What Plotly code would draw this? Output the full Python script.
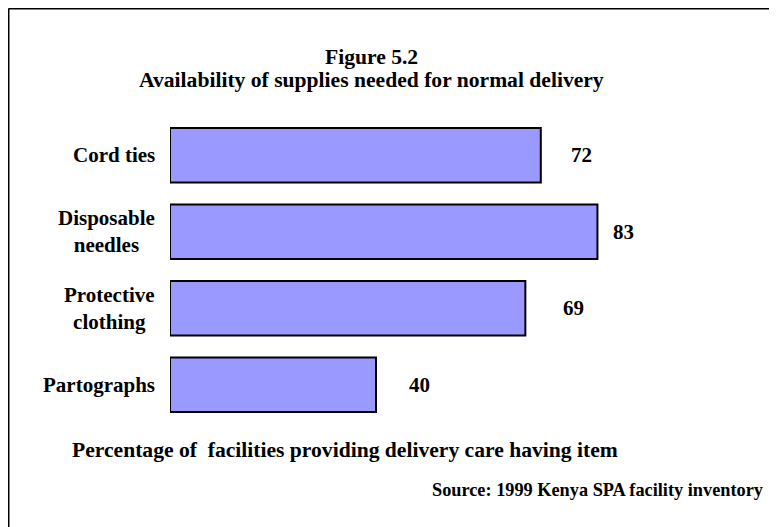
import plotly.graph_objects as go

categories = ["Cord ties", "Disposable needles", "Protective clothing", "Partographs"]
category_labels = ["Cord ties", "Disposable<br>needles", "Protective<br>clothing", "Partographs"]
values = [72, 83, 69, 40]

title_line1 = "Figure 5.2"
title_line2 = "Availability of supplies needed for normal delivery"
axis_note = "Percentage of \u00a0facilities providing delivery care having item"
source_note = "Source: 1999 Kenya SPA facility inventory"

FONT = "Liberation Serif, Times New Roman, serif"
W, H = 777, 527
# page places the figure 8px in from the window's top-left corner
OX, OY = 8, 8
L, R, T, B = 162, 100, 109, 112
PW, PH = W - L - R, H - T - B
# gap (px) between each bar end and its value label, as placed in the original
label_gaps = [28, 14, 36, 31]

def px_x(x):
    return (x - OX - L) / PW

def px_y(y):
    return 1 - (y - OY - T) / PH

fig = go.Figure()
fig.add_trace(go.Bar(
    x=values, y=categories, orientation="h",
    width=0.715,
    marker=dict(color="#9999FF", line=dict(color="black", width=2)),
    hoverinfo="skip",
))

annotations = []
for cat, lab in zip(categories, category_labels):
    annotations.append(dict(
        x=0, xref="paper", y=cat, yref="y", text="<b>%s</b>" % lab,
        xanchor="right", yanchor="middle", xshift=-13, align="center",
        showarrow=False, font=dict(family=FONT, size=21, color="black"),
    ))
for cat, v, g in zip(categories, values, label_gaps):
    annotations.append(dict(
        x=v, xref="x", y=cat, yref="y", text="<b>%d</b>" % v,
        xanchor="left", yanchor="middle", xshift=g,
        showarrow=False, font=dict(family=FONT, size=21, color="black"),
    ))
annotations.append(dict(
    x=px_x(371), xref="paper", y=px_y(57), yref="paper", text="<b>%s</b>" % title_line1,
    xanchor="center", yanchor="middle", showarrow=False,
    font=dict(family=FONT, size=21.6, color="black")))
annotations.append(dict(
    x=px_x(371), xref="paper", y=px_y(80), yref="paper", text="<b>%s</b>" % title_line2,
    xanchor="center", yanchor="middle", showarrow=False,
    font=dict(family=FONT, size=21.6, color="black")))
annotations.append(dict(
    x=px_x(70), xref="paper", y=px_y(450), yref="paper", text="<b>%s</b>" % axis_note,
    xanchor="left", yanchor="middle", showarrow=False,
    font=dict(family=FONT, size=21.6, color="black")))
annotations.append(dict(
    x=px_x(765), xref="paper", y=px_y(490), yref="paper", text="<b>%s</b>" % source_note,
    xanchor="right", yanchor="middle", showarrow=False,
    font=dict(family=FONT, size=18.3, color="black")))

shapes = [
    dict(type="line", xref="paper", yref="paper",
         x0=px_x(8.5), x1=px_x(800), y0=px_y(8.5), y1=px_y(8.5),
         line=dict(color="black", width=2)),
    dict(type="line", xref="paper", yref="paper",
         x0=px_x(8.5), x1=px_x(8.5), y0=px_y(8.5), y1=px_y(560),
         line=dict(color="black", width=2)),
]

fig.update_layout(
    width=W, height=H,
    margin=dict(l=L, r=R, t=T, b=B),
    paper_bgcolor="white", plot_bgcolor="white",
    showlegend=False,
    xaxis=dict(range=[0, 100], visible=False),
    yaxis=dict(range=[3.5, -0.5], showticklabels=False, showgrid=False,
               zeroline=False, showline=False, ticks=""),
    annotations=annotations,
    shapes=shapes,
    font=dict(family=FONT),
)

fig.write_html("out.html")
